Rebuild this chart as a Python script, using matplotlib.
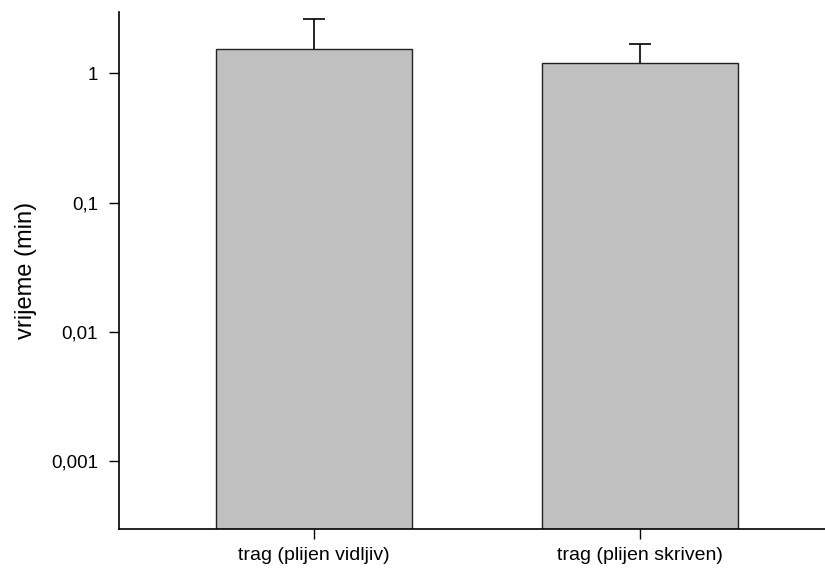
import matplotlib.pyplot as plt
from matplotlib.ticker import FixedLocator, NullLocator

plt.rcParams["font.family"] = ["Liberation Sans", "DejaVu Sans"]

# Mean time per condition with the upper error (SE) above each bar
CATEGORIES = ["trag (plijen vidljiv)", "trag (plijen skriven)"]
MEAN_MIN = [1.53, 1.20]
ERR_UP = [1.09, 0.49]

Y_TICKS = [0.001, 0.01, 0.1, 1]
Y_TICK_LABELS = ["0,001", "0,01", "0,1", "1"]


def main() -> None:
    fig = plt.figure(figsize=(8.25, 5.71), dpi=100)
    ax = fig.add_axes([0.1442, 0.0736, 0.8558, 0.9054])

    x = list(range(len(CATEGORIES)))
    ax.bar(
        x,
        MEAN_MIN,
        width=0.6,
        color="#c0c0c0",
        edgecolor="#222222",
        linewidth=1.0,
        zorder=2,
    )

    # upper error only: whisker from bar top plus a cap at the end
    tops = [m + e for m, e in zip(MEAN_MIN, ERR_UP)]
    ax.vlines(x, MEAN_MIN, tops, colors="black", linewidth=1.2, zorder=3)
    ax.plot(x, tops, linestyle="none", marker="_", markersize=16,
            markeredgewidth=1.2, color="black", zorder=3)

    ax.set_yscale("log")
    ax.set_ylim(0.0003, 2.97)
    ax.set_xlim(-0.598, 1.567)

    ax.yaxis.set_major_locator(FixedLocator(Y_TICKS))
    ax.yaxis.set_minor_locator(NullLocator())
    ax.set_yticklabels(Y_TICK_LABELS)
    ax.set_xticks(x)
    ax.set_xticklabels(CATEGORIES)

    ax.tick_params(axis="both", direction="out", length=7, width=1.0)
    ax.tick_params(axis="y", pad=8, labelsize=13.5)
    ax.tick_params(axis="x", pad=6, labelsize=14)
    ax.set_ylabel("vrijeme (min)", fontsize=17, labelpad=10)

    for side in ("top", "right"):
        ax.spines[side].set_visible(False)
    for side in ("left", "bottom"):
        ax.spines[side].set_linewidth(1.2)

    fig.savefig("out.png", dpi=100)


if __name__ == "__main__":
    main()
